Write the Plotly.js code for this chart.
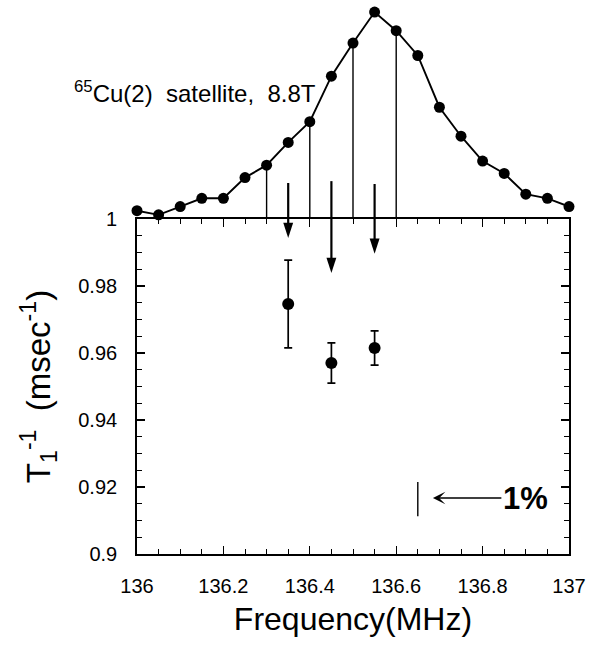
<!DOCTYPE html>
<html><head><meta charset="utf-8">
<script src="https://cdn.plot.ly/plotly-3.0.1.min.js"></script>
<style>html,body{margin:0;padding:0;background:#fff}#chart{width:602px;height:649px}</style>
</head><body><div id="chart"></div>
<script>
// Spectrum (upper trace, arbitrary intensity)
const specFreq = [136.00,136.05,136.10,136.15,136.20,136.25,136.30,136.35,136.40,136.45,136.50,136.55,136.60,136.65,136.70,136.75,136.80,136.85,136.90,136.95,137.00];
const specIntensity = [0.04,0.02,0.06,0.10,0.10,0.20,0.26,0.37,0.47,0.69,0.85,1.00,0.91,0.79,0.54,0.40,0.28,0.22,0.12,0.10,0.06];
// Frequencies where vertical lines drop from the spectrum to the frame
const dropFreq = [136.30,136.40,136.50,136.60];
// T1^-1 data
const t1Freq = [136.35,136.45,136.55];
const t1Rate = [0.9746,0.9570,0.9615];
const t1Err = [0.0131,0.0060,0.0051];
// Down arrows: tail (on spectrum scale, above the frame), entry at frame top, tip (on T1 scale)
const arrowFreq = [136.35,136.45,136.55];
const arrowTailIntensity = [0.174,0.183,0.169];
const arrowTopRate = [1.0,1.0,1.0];
const arrowTipRate = [0.9943,0.9839,0.9896];
// 1% scale bar
const scaleFreq = [136.65,136.65];
const scaleRate = [0.9113,0.9215];
const scaleArrowTip = [136.685,0.9167];
const scaleLabelPos = [136.899,0.9167];
// Ticks
const xTickVals = [136,136.2,136.4,136.6,136.8,137];
const xTickText = ['136','136.2','136.4','136.6','136.8','137'];
const yTickVals = [0.9,0.92,0.94,0.96,0.98,1];
const yTickText = ['0.9','0.92','0.94','0.96','0.98','1'];

const FONT = 'Liberation Sans, Arial, Helvetica, sans-serif';

const dropX = [], dropY = [];
dropFreq.forEach(f => {
  const i = specFreq.findIndex(v => Math.abs(v - f) < 1e-9);
  dropX.push(f, f, null);
  dropY.push(specIntensity[i], 0, null);
});

const shaftX = [], shaftY = [];
arrowFreq.forEach((f, i) => { shaftX.push(f, f, null); shaftY.push(arrowTailIntensity[i], 0, null); });
const headX = [], headY = [], headSize = [];
arrowFreq.forEach((f, i) => {
  headX.push(f, f, null); headY.push(arrowTopRate[i], arrowTipRate[i], null); headSize.push(0, 16, 0);
});

const traces = [
  {x: dropX, y: dropY, xaxis: 'x', yaxis: 'y2', mode: 'lines', opacity: 1, line: {color: 'black', width: 1.4}, hoverinfo: 'skip'},
  {x: shaftX, y: shaftY, xaxis: 'x', yaxis: 'y2', mode: 'lines', opacity: 1, line: {color: 'black', width: 2.2}, hoverinfo: 'skip'},
  {x: specFreq, y: specIntensity, xaxis: 'x', yaxis: 'y2', mode: 'lines+markers',
   line: {color: '#000', width: 1.9}, marker: {color: '#000', size: 11}, cliponaxis: false},
  {x: headX, y: headY, xaxis: 'x', yaxis: 'y', mode: 'lines+markers', opacity: 1,
   line: {color: 'black', width: 2.2},
   marker: {symbol: 'arrow', angleref: 'previous', size: headSize, color: 'black', opacity: 1, line: {width: 0}}, hoverinfo: 'skip'},
  {x: t1Freq, y: t1Rate, xaxis: 'x', yaxis: 'y', mode: 'markers',
   marker: {color: '#000', size: 12},
   error_y: {type: 'data', array: t1Err, visible: true, color: '#000', thickness: 1.7, width: 4}},
  {x: scaleFreq, y: scaleRate, xaxis: 'x', yaxis: 'y', mode: 'lines', line: {color: '#000', width: 1.4}, hoverinfo: 'skip'}
];

const annotations = [{
  x: scaleArrowTip[0], y: scaleArrowTip[1], xref: 'x', yref: 'y',
  ax: scaleLabelPos[0], ay: scaleLabelPos[1], axref: 'x', ayref: 'y',
  text: '<b>1%</b>', font: {family: FONT, size: 31, color: '#000'},
  showarrow: true, arrowhead: 3, arrowsize: 1.3, arrowwidth: 1.6, arrowcolor: '#000'
}, {
  x: -0.1505, y: 0.8415, xref: 'paper', yref: 'paper', xanchor: 'left', yanchor: 'middle',
  text: '<sup>65</sup>Cu(2)\u00A0\u00A0satellite,\u00A0\u00A08.8T', showarrow: false,
  font: {family: FONT, size: 24, color: '#000'}
}];

const layout = {
  width: 602, height: 649,
  margin: {l: 137, r: 33, t: 5, b: 95},
  paper_bgcolor: '#fff', plot_bgcolor: 'rgba(0,0,0,0)',
  showlegend: false,
  font: {family: FONT, color: '#000'},
  xaxis: {
    range: [136, 137], anchor: 'y', showgrid: false, zeroline: false,
    showline: true, linecolor: '#000', linewidth: 1.8, mirror: 'ticks',
    ticks: 'inside', ticklen: 8, tickwidth: 1.2, tickcolor: '#000',
    tickmode: 'array', tickvals: xTickVals, ticktext: xTickText,
    tickfont: {family: FONT, size: 20, color: '#000'}, ticklabelstandoff: 13,
    minor: {tickmode: 'linear', tick0: 136, dtick: 0.05, ticks: 'inside', ticklen: 5, tickwidth: 1, tickcolor: '#000', showgrid: false},
    title: {text: 'Frequency(MHz)', font: {family: FONT, size: 32, color: '#000'}, standoff: 12}
  },
  yaxis: {
    range: [0.9, 1.0], domain: [0, 0.6102], anchor: 'x', showgrid: false, zeroline: false,
    showline: true, linecolor: '#000', linewidth: 1.8, mirror: 'ticks',
    ticks: 'inside', ticklen: 8, tickwidth: 1.2, tickcolor: '#000',
    tickmode: 'array', tickvals: yTickVals, ticktext: yTickText,
    tickfont: {family: FONT, size: 20, color: '#000'}, ticklabelstandoff: 14,
    minor: {tickmode: 'linear', tick0: 0.9, dtick: 0.005, ticks: 'inside', ticklen: 5, tickwidth: 1, tickcolor: '#000', showgrid: false},
    title: {text: 'T<sub>1</sub><sup>-1</sup>\u00A0\u00A0(msec<sup>-1</sup>)', font: {family: FONT, size: 33, color: '#000'}, standoff: 18}
  },
  yaxis2: {
    domain: [0.6102, 1], range: [0, 1.034], anchor: 'x', visible: false, showgrid: false, zeroline: false
  },
  annotations: annotations
};

Plotly.newPlot('chart', traces, layout, {staticPlot: true, displayModeBar: false});
</script>
</body></html>
